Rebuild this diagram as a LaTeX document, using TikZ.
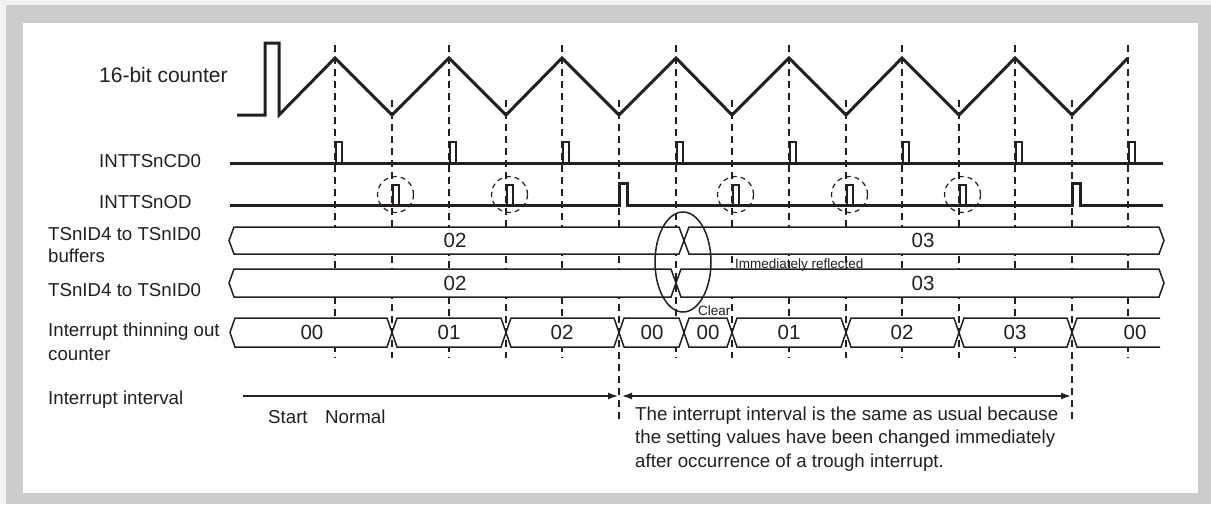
\documentclass[tikz,border=0pt]{standalone}
\usepackage{fontspec}
\setmainfont{Liberation Sans}
\usepackage{xcolor}
\usetikzlibrary{arrows.meta, calc}

\definecolor{ink}{HTML}{231F20}
\definecolor{framegray}{HTML}{CCCCCC}
\definecolor{pagebg}{HTML}{F2F2F2}

\tikzset{
  wave/.style={ink, line width=3pt, line join=miter},
  sig/.style={ink, line width=3pt, line join=miter},
  pulse/.style={ink, line width=1.2pt},
  guide/.style={ink, line width=1.5pt, dash pattern=on 7pt off 5pt},
  ring/.style={ink, line width=1.2pt, dash pattern=on 5pt off 4pt},
  bus/.style={draw=ink, fill=white, line width=1.5pt},
  intv/.style={ink, line width=1.5pt},
  lbl/.style={ink, font=\fontsize{18.7}{23.5}\selectfont, anchor=base west, inner sep=0pt, align=left},
  val/.style={ink, font=\fontsize{20.5}{24}\selectfont, inner sep=0pt},
  smalltxt/.style={ink, font=\fontsize{13.5}{16}\selectfont, anchor=base west, inner sep=0pt}
}

% one bus segment: left x, right x, top y, bottom y
\newcommand{\busseg}[4]{%
  \filldraw[bus] (#1,{(#3+#4)/2}) -- (#1+5,#3) -- (#2-5,#3) -- (#2,{(#3+#4)/2})
    -- (#2-5,#4) -- (#1+5,#4) -- cycle;}

\begin{document}
\begin{tikzpicture}[x=1pt, y=-1pt]
\useasboundingbox (0,0) rectangle (1211,504);
% frame
\fill[pagebg] (0,0) rectangle (1211,504);
\fill[framegray] (6,5) rectangle (1211,504);
\fill[white] (23,23) rectangle (1198,493);

% guide lines at peaks and troughs
\foreach \x in {335,449,562,676,789,902,1015,1128} \draw[guide] (\x,45) -- (\x,358);
\foreach \x in {392,506,732,846,959} \draw[guide] (\x,100) -- (\x,358);
\foreach \x in {619,1072} \draw[guide] (\x,100) -- (\x,423);

% 16-bit counter
\draw[wave] (237,115) -- (265,115) -- (265,43) -- (279,43) -- (279,115)
  \foreach \p/\t in {335/392,449/506,562/619,676/732,789/846,902/959,1015/1072} { -- (\p,58) -- (\t,115) }
  -- (1128,58);

% INTTSnCD0
\draw[sig] (230,163) -- (1163,163);
\foreach \x in {335,449,562,676,789,902,1015,1128}
  \draw[pulse] (\x+1,163) -- (\x+1,142) -- (\x+7,142) -- (\x+7,163);

% INTTSnOD
\draw[sig] (230,205) -- (619,205) -- (619,183) -- (627,183) -- (627,205)
  -- (1072,205) -- (1072,183) -- (1080,183) -- (1080,205) -- (1163,205);
\foreach \x in {392,506,732,846,959} {
  \draw[pulse] (\x+1,205) -- (\x+1,185) -- (\x+7,185) -- (\x+7,205);
  \draw[ring] (\x+3.5,194.5) circle [radius=18pt];
}

% buffers and registers
\busseg{229}{684}{227}{254}
\busseg{684}{1164}{227}{254}
\busseg{229}{676}{269}{297}
\busseg{676}{1164}{269}{297}

% thinning out counter
\foreach \a/\b in {230/392,392/506,506/619,619/684,684/732,732/846,846/959,959/1072}
  \busseg{\a}{\b}{318}{347}
\fill[white] (1072,332.5) -- (1077,318) -- (1160,318) -- (1160,347) -- (1077,347) -- cycle;
\draw[bus] (1160,318) -- (1077,318) -- (1072,332.5) -- (1077,347) -- (1160,347);

\draw[ink, line width=1.5pt] (683,262) ellipse [x radius=28pt, y radius=50pt];

% interrupt interval
\coordinate (iStart) at (243,396);
\coordinate (iMid) at (619,396);
\coordinate (iEnd) at (1072,396);
\draw[intv, -{Latex[length=10pt,width=7pt]}] (iStart) -- ([xshift=-1pt]iMid);
\draw[intv, {Latex[length=10pt,width=7pt]}-{Latex[length=10pt,width=7pt]}] ([xshift=3pt]iMid) -- ([xshift=-1pt]iEnd);

% values
\node[val] (buf02) at (455,240.5) {02};
\node[val] (buf03) at (923,240.5) {03};
\node[val] (id02) at (455,283) {02};
\node[val] (id03) at (923,283) {03};
\foreach \x/\v [count=\i] in {312/00,449/01,562/02,652/00,708/00,789/01,902/02,1015/03,1135/00}
  \node[val] (cnt\i) at (\x,332.5) {\v};

% labels (multi-line ones sit on their last line)
\node[lbl, font=\fontsize{21}{25}\selectfont] (lblCounter) at (99,82) {16-bit counter};
\node[lbl] (lblCD) at (99,167) {INTTSnCD0};
\node[lbl] (lblOD) at (99,208) {INTTSnOD};
\node[lbl, font=\fontsize{18.7}{22}\selectfont] (lblBuf) at (48,262) {TSnID4 to TSnID0\\buffers};
\node[lbl] (lblId) at (48,296) {TSnID4 to TSnID0};
\node[lbl] (lblThin) at (48,360) {Interrupt thinning out\\counter};
\node[lbl] (lblIntv) at (48,404) {Interrupt interval};
\node[lbl] (txtStart) at (268,423) {Start};
\node[lbl] (txtNormal) at (325,423) {Normal};
\node[lbl] (txtNote) at (635,467) {The interrupt interval is the same as usual because\\the setting values have been changed immediately\\after occurrence of a trough interrupt.};
\node[smalltxt] (txtReflect) at (735,268) {Immediately reflected};
\node[smalltxt] (txtClear) at (698,315) {Clear};
\end{tikzpicture}
\end{document}
